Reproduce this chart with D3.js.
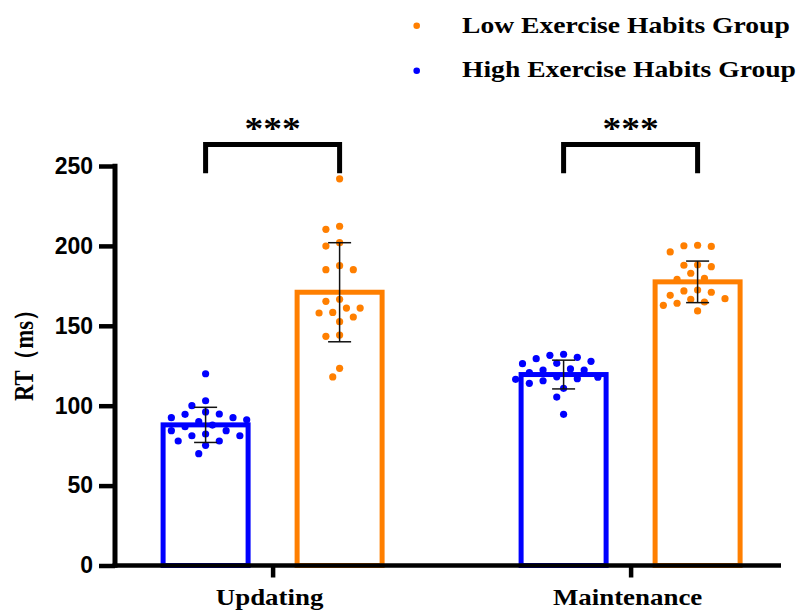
<!DOCTYPE html>
<html>
<head>
<meta charset="utf-8">
<script src="https://cdn.jsdelivr.net/npm/d3@7"></script>
<style>
  html, body { margin: 0; padding: 0; background: #fff; }
  svg { display: block; }
</style>
</head>
<body>
<script>
// ---------------- DATA ----------------
const categories = ["Updating", "Maintenance"];
const groups = ["High Exercise Habits Group", "Low Exercise Habits Group"];
const legendOrder = ["Low Exercise Habits Group", "High Exercise Habits Group"];
const yTicks = [0, 50, 100, 150, 200, 250];

const highMeans = [88, 119.5];
const highSD = [11, 9];
const lowMeans = [171, 177.5];
const lowSD = [31, 13];

const highUpdating = [120.0, 103.1, 100.0, 96.1, 94.6, 94.8, 92.5, 91.2, 90.0, 92.5, 86.9, 87.9, 84.4, 84.4, 81.2, 82.3, 81.2, 77.9, 77.9, 75.2, 70.0];
const lowUpdating = [242, 210.4, 212.3, 199.9, 202, 185.1, 185.1, 187.6, 165.3, 166.6, 161.1, 161.1, 158, 158.4, 155.5, 152.6, 143.4, 144.2, 123.4, 118];
const highMaintenance = [131.5, 130.3, 132.2, 129.4, 126.5, 127.8, 126.3, 122.3, 122.3, 123, 120.7, 116.5, 114, 115.6, 116.9, 110.9, 105.4, 94.6, 118.1, 117.8];
const lowMaintenance = [200.1, 196.2, 199.7, 200.4, 188.2, 187, 187.9, 182.9, 179.1, 179.7, 171, 172.4, 171.8, 169.1, 166.6, 167, 164.1, 162.8, 164.9, 159.3];

const significance = ["***", "***"];

// ---------------- SETUP ----------------
const W = 801, H = 615;
const colors = { "High Exercise Habits Group": "#0000ff", "Low Exercise Habits Group": "#ff7f00" };
const serif = "'Liberation Serif', 'Times New Roman', Times, serif";
const sans = "'Liberation Sans', Arial, Helvetica, sans-serif";
const STRETCH = 1.17;
const LEG_STRETCH = 1.2;

const svg = d3.select("body").append("svg").attr("width", W).attr("height", H);
svg.append("rect").attr("width", W).attr("height", H).attr("fill", "#fff");

const y = d3.scaleLinear().domain([0, 250]).range([565.5, 166]);
const x0 = d3.scalePoint().domain(categories).range([272.6, 630.6]);
const x1 = d3.scaleBand().domain(groups).range([-109.5, 109.5]).paddingInner(0.3657);

const series = [
  { cat: "Updating", grp: groups[0], mean: highMeans[0], sd: highSD[0], pts: highUpdating },
  { cat: "Updating", grp: groups[1], mean: lowMeans[0], sd: lowSD[0], pts: lowUpdating },
  { cat: "Maintenance", grp: groups[0], mean: highMeans[1], sd: highSD[1], pts: highMaintenance },
  { cat: "Maintenance", grp: groups[1], mean: lowMeans[1], sd: lowSD[1], pts: lowMaintenance }
];

const cx = s => x0(s.cat) + x1(s.grp) + x1.bandwidth() / 2;

// ---------------- BARS ----------------
svg.append("g").selectAll("rect").data(series).join("rect")
  .attr("x", s => x0(s.cat) + x1(s.grp))
  .attr("y", s => y(s.mean))
  .attr("width", x1.bandwidth())
  .attr("height", s => y(0) - y(s.mean))
  .attr("fill", "none")
  .attr("stroke", s => colors[s.grp])
  .attr("stroke-width", 5);

// ---------------- DOTS (beeswarm layout) ----------------
const R = 3.6, STEP = 6.85, MIND = 10.5;
function swarm(values) {
  const sorted = values.map(v => ({ v, py: y(v) })).sort((a, b) => b.v - a.v);
  const placed = [];
  sorted.forEach(p => {
    for (let k = 0; k < 40; k++) {
      const m = Math.ceil(k / 2) * (k % 2 === 1 ? -1 : 1);
      const ox = m * STEP;
      const ok = placed.every(q => Math.hypot(q.ox - ox, q.py - p.py) >= MIND);
      if (ok) { p.ox = ox; break; }
    }
    placed.push(p);
  });
  return placed;
}
const dotG = svg.append("g");
series.forEach(s => {
  const pts = swarm(s.pts);
  dotG.append("g").selectAll("circle").data(pts).join("circle")
    .attr("cx", p => cx(s) + p.ox)
    .attr("cy", p => p.py)
    .attr("r", R)
    .attr("fill", colors[s.grp]);
});

// ---------------- ERROR BARS ----------------
const errG = svg.append("g").attr("stroke", "#111").attr("stroke-width", 1.5);
series.forEach(s => {
  const c = cx(s);
  errG.append("line").attr("x1", c).attr("x2", c).attr("y1", y(s.mean + s.sd)).attr("y2", y(s.mean - s.sd));
  [s.mean + s.sd, s.mean - s.sd].forEach(v => {
    errG.append("line").attr("x1", c - 11.5).attr("x2", c + 11.5).attr("y1", y(v)).attr("y2", y(v));
  });
});

// ---------------- AXES ----------------
const yAxis = d3.axisLeft(y).tickValues(yTicks).tickSize(16).tickSizeOuter(0).tickPadding(6).tickFormat(d3.format("d"));
const yg = svg.append("g").attr("transform", "translate(115,0)").call(yAxis);
yg.select(".domain").remove();
yg.selectAll(".tick line").attr("stroke", "#000").attr("stroke-width", 4.5);
yg.selectAll(".tick text").attr("fill", "#000").attr("font-family", sans).attr("font-weight", "bold").attr("font-size", 23);
svg.append("line").attr("x1", 115).attr("x2", 115).attr("y1", y(250) - 2.25).attr("y2", y(0) + 2.25)
  .attr("stroke", "#000").attr("stroke-width", 5);

const xAxis = d3.axisBottom(x0).tickSize(12).tickSizeOuter(0);
const xg = svg.append("g").attr("transform", `translate(0,${y(0)})`).call(xAxis);
xg.select(".domain").remove();
xg.selectAll(".tick line").attr("stroke", "#000").attr("stroke-width", 4.5);
xg.selectAll(".tick text").attr("fill", "#000").attr("font-family", serif).attr("font-weight", "bold")
  .attr("font-size", 23).attr("y", 40).attr("dy", 0).attr("x", -3).attr("transform", `scale(${STRETCH},1)`);
svg.append("line").attr("x1", 112.5).attr("x2", 781).attr("y1", y(0)).attr("y2", y(0))
  .attr("stroke", "#000").attr("stroke-width", 4.5);

// Y label
svg.append("text")
  .attr("transform", `translate(33,350) rotate(-90) scale(1,${STRETCH})`)
  .attr("text-anchor", "middle")
  .attr("font-family", serif).attr("font-weight", "bold").attr("font-size", 22.5).attr("fill", "#000")
  .text("RT（ms）");

// ---------------- SIGNIFICANCE ----------------
const BR_TOP = 263.4, BR_LEG = 245.5;
categories.forEach((c, i) => {
  const xa = x0(c) + x1(groups[0]) + x1.bandwidth() / 2;
  const xb = x0(c) + x1(groups[1]) + x1.bandwidth() / 2;
  svg.append("path")
    .attr("d", `M${xa},${y(BR_LEG)}V${y(BR_TOP)}H${xb}V${y(BR_LEG)}`)
    .attr("fill", "none").attr("stroke", "#000").attr("stroke-width", 5);
  svg.append("text")
    .attr("transform", `translate(${(xa + xb) / 2},139) scale(${STRETCH},1)`)
    .attr("text-anchor", "middle")
    .attr("font-family", serif).attr("font-weight", "bold").attr("font-size", 32).attr("fill", "#000")
    .text(significance[i]);
});

// ---------------- LEGEND ----------------
const legY = [25.7, 70.7];
const legBase = [33.3, 77];
legendOrder.forEach((g, i) => {
  svg.append("circle").attr("cx", 416.7).attr("cy", legY[i]).attr("r", 3.3).attr("fill", colors[g]);
  svg.append("text")
    .attr("transform", `translate(462,${legBase[i]}) scale(${LEG_STRETCH},1)`)
    .attr("font-family", serif).attr("font-weight", "bold").attr("font-size", 23).attr("fill", "#000")
    .text(g);
});
</script>
</body>
</html>
